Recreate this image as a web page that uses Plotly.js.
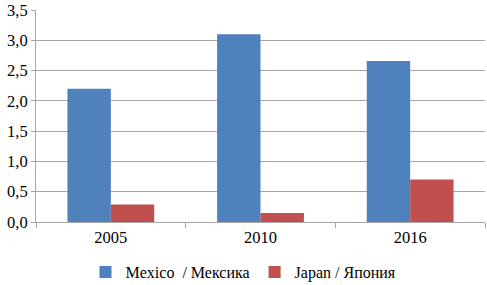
<!DOCTYPE html>
<html><head><meta charset="utf-8">
<script src="https://cdn.plot.ly/plotly-3.0.1.min.js"></script>
<style>html,body{margin:0;padding:0;background:#fff}#chart{width:487px;height:285px}</style>
</head><body><div id="chart"></div>
<script>
const categories = ['2005', '2010', '2016'];
const mexico = [2.20, 3.10, 2.66];
const japan = [0.29, 0.15, 0.70];
const yTicks = [0, 0.5, 1, 1.5, 2, 2.5, 3, 3.5];

const font = {family: 'Liberation Serif', size: 16.5, color: '#000'};
const legendFont = {family: 'Liberation Serif', size: 16, color: '#000'};
const data = [
  {type: 'bar', name: 'Mexico  / Мексика', x: categories, y: mexico, marker: {color: '#4F81BD'}},
  {type: 'bar', name: 'Japan / Япония', x: categories, y: japan, marker: {color: '#C0504D'}}
];
const layout = {
  width: 487, height: 285,
  margin: {l: 36, r: 2, t: 10, b: 63},
  separators: ', ',
  font: font,
  barmode: 'group', bargap: 0.42, bargroupgap: 0,
  showlegend: true,
  legend: {orientation: 'h', x: 0.5, xanchor: 'center', xref: 'container', y: 0.045, yanchor: 'middle', yref: 'container',
           font: legendFont, tracegroupgap: 0},
  xaxis: {type: 'category', showgrid: false, showline: true, linecolor: '#a6a6a6', linewidth: 1,
          ticks: 'outside', tickson: 'boundaries', ticklen: 5, tickcolor: '#a6a6a6', tickfont: font, fixedrange: true},
  yaxis: {range: [0, 3.5], tickvals: yTicks, tickformat: '.1f', showgrid: true, gridcolor: '#a6a6a6', gridwidth: 1,
          showline: true, linecolor: '#a6a6a6', zeroline: false, ticks: 'outside', ticklen: 4, tickcolor: '#a6a6a6',
          tickfont: font, ticklabeloverflow: 'allow'},
  plot_bgcolor: '#fff', paper_bgcolor: '#fff'
};
Plotly.newPlot('chart', data, layout, {displayModeBar: false, staticPlot: true});
</script></body></html>
